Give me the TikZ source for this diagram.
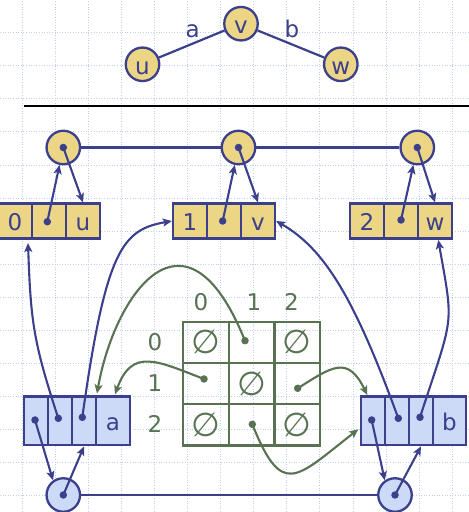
\documentclass[tikz,border=0pt]{standalone}
\usepackage{fontspec}
\setmainfont{DejaVu Sans}
\usetikzlibrary{arrows.meta}
\definecolor{dblue}{HTML}{3B3F8C}
\definecolor{yel}{HTML}{ECD685}
\definecolor{lblue}{HTML}{CCDAF8}
\definecolor{mgreen}{HTML}{587252}
\definecolor{gridc}{HTML}{BFCEF2}
\tikzset{
  gridl/.style={draw=gridc, line width=1pt, dash pattern=on 1pt off 1.6pt},
  vtx/.style={circle, draw=dblue, line width=2.3pt, fill=yel, minimum size=33.5pt, inner sep=0pt, text=dblue, text height=20pt, text depth=0pt},
  ecirc/.style={vtx, fill=lblue},
  ycell/.style={rectangle, draw=dblue, line width=2.3pt, fill=yel, minimum width=34pt, minimum height=35pt, inner sep=0pt, text=dblue, text height=20pt, text depth=0pt},
  bcell/.style={ycell, fill=lblue, minimum width=24pt, minimum height=48.8pt},
  gcell/.style={rectangle, draw=mgreen, line width=2.3pt, minimum width=45.7pt, minimum height=41.3pt, inner sep=0pt, text=mgreen, font=\fontsize{33pt}{36pt}\selectfont},
  bdot/.style={circle, fill=dblue, inner sep=0pt, minimum size=7.5pt},
  gdot/.style={circle, fill=mgreen, inner sep=0pt, minimum size=7.5pt},
  edge/.style={draw=dblue, line width=2.2pt},
  arr/.style={draw=dblue, line width=2.1pt, -{Stealth[length=9pt,width=8pt,inset=2pt]}},
  garr/.style={draw=mgreen, line width=2.1pt, -{Stealth[length=9pt,width=8pt,inset=2pt]}},
  blab/.style={text=dblue, anchor=base, inner sep=0pt},
  glab/.style={text=mgreen, anchor=base, inner sep=0pt},
}
\begin{document}
\begin{tikzpicture}[x=1pt,y=1pt,font=\fontsize{23pt}{27pt}\selectfont]
\useasboundingbox (0,0) rectangle (469,512);
% background grid
\foreach \i in {0,...,13} \draw[gridl] ({22.3+33.07*\i},0) -- ({22.3+33.07*\i},512);
\foreach \j in {1,...,15} \draw[gridl] (0,{512.3-33.07*\j}) -- (469,{512.3-33.07*\j});

% top graph
\node[vtx] (v) at (241,488.3) {v};
\node[vtx] (u) at (142.5,447.7) {u};
\node[vtx] (w) at (340.8,447.7) {w};
\draw[edge] (u) -- (v) -- (w);
\node[blab] (la) at (192.7,474.7) {a};
\node[blab] (lb) at (292,474.7) {b};

% separator
\coordinate (sepL) at (24,406);
\coordinate (sepR) at (469,406);
\draw[black, line width=1.2pt] (sepL) -- (sepR);

% vertex list
\node[vtx] (cu) at (63.3,364.5) {};
\node[vtx] (cv) at (238.5,364.5) {};
\node[vtx] (cw) at (417.3,364.5) {};
\draw[edge] (cu) -- (cv) -- (cw);
\node[bdot] (cud) at (cu.center) {};
\node[bdot] (cvd) at (cv.center) {};
\node[bdot] (cwd) at (cw.center) {};

% vertex records
\node[ycell] (u1) at (15,291) {0};
\node[ycell] (u2) at (49,291) {};
\node[ycell] (u3) at (83,291) {u};
\node[ycell] (v1) at (190,291) {1};
\node[ycell] (v2) at (224,291) {};
\node[ycell] (v3) at (258,291) {v};
\node[ycell] (w1) at (367,291) {2};
\node[ycell] (w2) at (401,291) {};
\node[ycell] (w3) at (435,291) {w};
\node[bdot] (du) at (47.3,290.3) {};
\node[bdot] (dv) at (222.7,291) {};
\node[bdot] (dw) at (401,292) {};
\draw[arr] (du.center) -- (cu);
\draw[arr] (dv.center) -- (cv);
\draw[arr] (dw.center) -- (cw);
\draw[arr] (cud.center) -- (u3.north);
\draw[arr] (cvd.center) -- (v3.north);
\draw[arr] (cwd.center) -- (w3.north);

% edge records
\node[bcell] (a1) at (36,91.1) {};
\node[bcell] (a2) at (60,91.1) {};
\node[bcell] (a3) at (84,91.1) {};
\node[bcell, minimum width=34pt] (a4) at (113,91.1) {a};
\node[bcell] (b1) at (373,91.1) {};
\node[bcell] (b2) at (397,91.1) {};
\node[bcell] (b3) at (421,91.1) {};
\node[bcell, minimum width=33pt] (b4) at (449.5,91.1) {b};
\node[bdot] (da1) at (35,92) {};
\node[bdot] (da2) at (58.3,93.7) {};
\node[bdot] (da3) at (82.3,94.7) {};
\node[bdot] (db1) at (371.7,92) {};
\node[bdot] (db2) at (398.3,93.7) {};
\node[bdot] (db3) at (420,94.7) {};

% edge list
\node[ecirc] (ca) at (63.3,17) {};
\node[ecirc] (cb) at (395,17) {};
\draw[edge] (ca) -- (cb);
\node[bdot] (cad) at (ca.center) {};
\node[bdot] (cbd) at (cb.center) {};
\draw[arr] (da1.center) -- (ca.125);
\draw[arr] (db1.center) -- (cb.125);
\draw[arr] (cad.center) -- (a3.south);
\draw[arr] (cbd.center) -- (b3.south);

% edge records to vertex records
\coordinate (t1) at (28,269);
\coordinate (t4) at (438.3,272);
\draw[arr] (da2.center) to[out=108,in=-88,distance=80pt] (t1);
\draw[arr] (da3.center) to[out=82,in=190,out distance=170pt,in distance=50pt] (v1.west);
\draw[arr] (db2.center) to[out=110,in=-30,out distance=130pt,in distance=55pt] (v3.east);
\draw[arr] (db3.center) to[out=72,in=-80,out distance=110pt,in distance=90pt] (t4);

% adjacency matrix
\node[gcell] (m00) at (205.85,169.65) {∅};
\node[gcell] (m01) at (251.55,169.65) {};
\node[gcell] (m02) at (297.25,169.65) {∅};
\node[gcell] (m10) at (205.85,128.35) {};
\node[gcell] (m11) at (251.55,128.35) {∅};
\node[gcell] (m12) at (297.25,128.35) {};
\node[gcell] (m20) at (205.85,87.05) {∅};
\node[gcell] (m21) at (251.55,87.05) {};
\node[gcell] (m22) at (297.25,87.05) {∅};
\node[glab] (c0) at (201,201.3) {0};
\node[glab] (c1) at (254,201.3) {1};
\node[glab] (c2) at (291.5,201.3) {2};
\node[glab] (r0) at (155,161.3) {0};
\node[glab] (r1) at (155,120.3) {1};
\node[glab] (r2) at (155,79.3) {2};
\node[gdot] (d01) at (245,171.3) {};
\node[gdot] (d10) at (204,133) {};
\node[gdot] (d12) at (297.7,123.7) {};
\node[gdot] (d21) at (252.3,87.7) {};
\coordinate (g1t) at (97,118.5);
\coordinate (g2t) at (115,117.7);
\coordinate (g3t) at (367.3,117);
\coordinate (g4t) at (358.3,82.7);
\draw[garr] (d01.center) to[out=112,in=80,out distance=160pt,in distance=100pt] (g1t);
\draw[garr] (d10.center) to[out=159,in=70,distance=50pt] (g2t);
\draw[garr] (d12.center) to[out=32,in=116,out distance=40pt,in distance=45pt] (g3t);
\draw[garr] (d21.center) to[out=-68,in=218,distance=80pt] (g4t);
\end{tikzpicture}
\end{document}
